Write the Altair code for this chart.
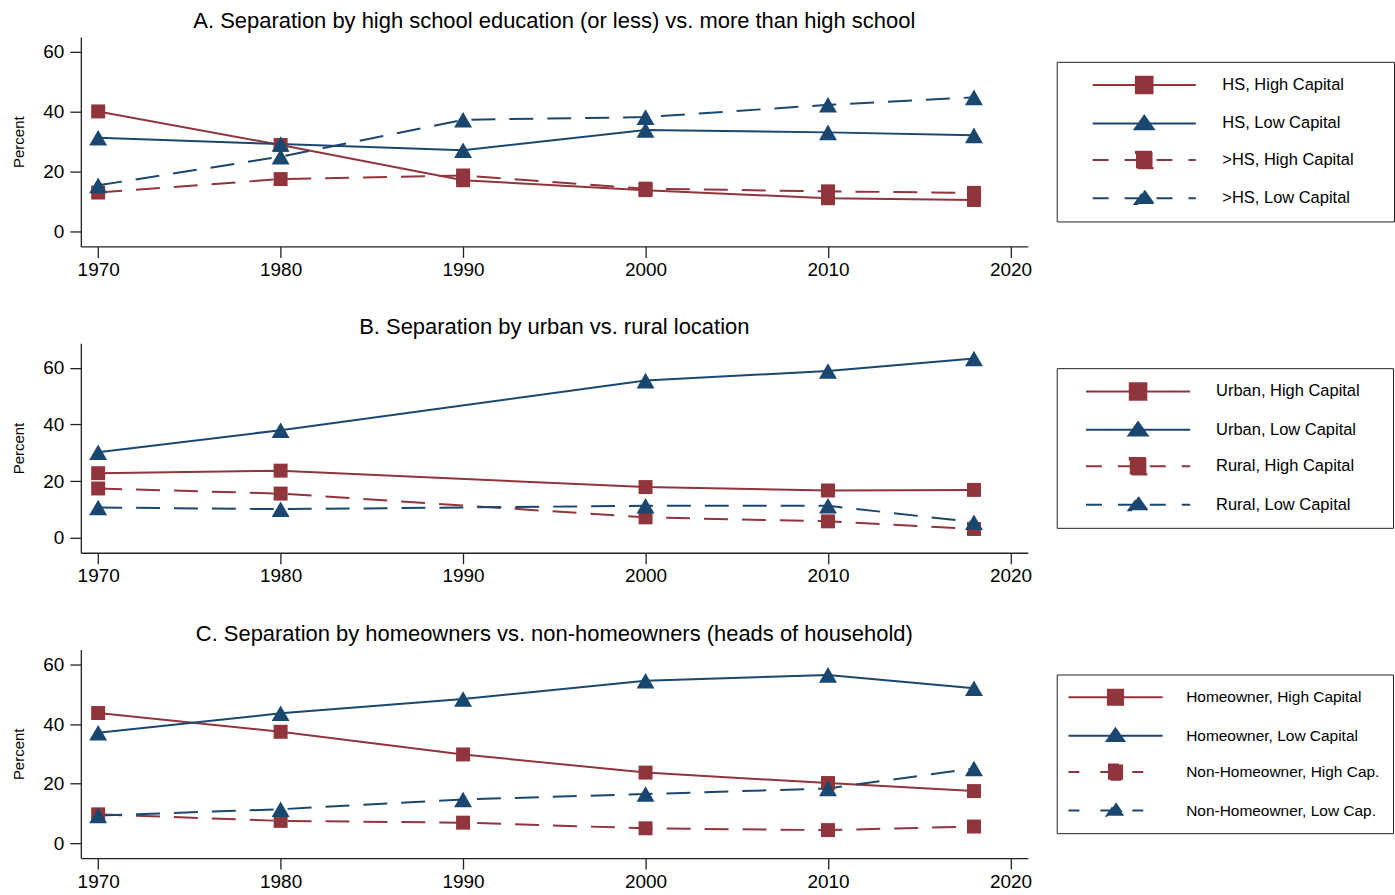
import json

import altair as alt
import pandas as pd

# ---- data -------------------------------------------------------------
YEARS = [1970, 1980, 1990, 2000, 2010, 2018]
YEARS_B = [1970, 1980, 2000, 2010, 2018]

A_TITLE = "A. Separation by high school education (or less) vs. more than high school"
A_SERIES = ["HS, High Capital", "HS, Low Capital", ">HS, High Capital", ">HS, Low Capital"]
A_HS_HIGH = [40.1, 28.9, 17.1, 13.8, 11.1, 10.5]
A_HS_LOW = [31.3, 29.2, 27.1, 33.9, 33.1, 32.1]
A_GT_HIGH = [13.0, 17.5, 18.7, 14.3, 13.4, 12.9]
A_GT_LOW = [15.4, 25.0, 37.3, 38.2, 42.3, 44.8]

B_TITLE = "B. Separation by urban vs. rural location"
B_SERIES = ["Urban, High Capital", "Urban, Low Capital", "Rural, High Capital", "Rural, Low Capital"]
B_URBAN_HIGH = [22.8, 23.7, 17.9, 16.7, 16.9]
B_URBAN_LOW = [30.2, 38.0, 55.5, 58.9, 63.3]
B_RURAL_HIGH = [17.4, 15.6, 7.2, 5.8, 3.1]
B_RURAL_LOW = [10.7, 10.1, 11.3, 11.3, 5.5]

C_TITLE = "C. Separation by homeowners vs. non-homeowners (heads of household)"
C_SERIES = ["Homeowner, High Capital", "Homeowner, Low Capital",
            "Non-Homeowner, High Cap.", "Non-Homeowner, Low Cap."]
C_HOME_HIGH = [43.7, 37.4, 29.8, 23.7, 20.2, 17.5]
C_HOME_LOW = [37.1, 43.6, 48.4, 54.5, 56.5, 52.0]
C_NON_HIGH = [9.7, 7.5, 6.9, 5.0, 4.4, 5.6]
C_NON_LOW = [9.3, 11.4, 14.7, 16.5, 18.4, 25.1]

X_TICKS = [1970, 1980, 1990, 2000, 2010, 2020]
Y_TICKS = [0, 20, 40, 60]

# ---- style ------------------------------------------------------------
MAROON = "#90353b"
NAVY = "#1a476f"
FONT = "Liberation Sans"
PLOT_W = 949
LINE_DASH = [24, 14]


def long_frame(years, series, columns):
    rows = []
    for i, (name, vals) in enumerate(zip(series, columns)):
        marker = "square" if i % 2 == 0 else "triangle"
        pattern = "solid" if i < 2 else "dash"
        for yr, v in zip(years, vals):
            rows.append({"year": yr, "value": v, "series": name,
                         "marker": marker, "pattern": pattern})
    return pd.DataFrame(rows)


def legend_for(series, unit, half_len, sym_offset, label_offset, label_size, row_pad,
               sq_half, tri_w, tri_top, tri_bot, dash, extend):
    """Boxed legend whose symbols are a line sample with the marker on it.

    Symbol paths are written in units of `unit` pixels (half the symbol box),
    so the entry rows stay as tall as the marker rather than the line sample.
    """
    u = float(unit)
    L = half_len / u
    s = sq_half / u
    tw, tt, tb = tri_w / u, tri_top / u, tri_bot / u
    ext = extend / u
    line = f"M{ext:.3f},0M{-L:.3f},0H{L:.3f}"
    sq_path = f"{line}M{-s:.3f},{-s:.3f}H{s:.3f}V{s:.3f}H{-s:.3f}Z"
    tri_path = f"{line}M0,{-tt:.3f}L{tw:.3f},{tb:.3f}H{-tw:.3f}Z"
    high = json.dumps([series[0], series[2]])
    dashed = json.dumps(series[2:])
    is_high = f"indexof({high}, datum.value) >= 0"
    return alt.Legend(
        title=None,
        orient="none",
        legendX=978,
        legendY=25,
        strokeColor="#222222",
        fillColor="white",
        padding=12.8,
        rowPadding=row_pad,
        cornerRadius=0,
        symbolSize=(2 * u) ** 2,
        symbolStrokeWidth=2,
        symbolOpacity=1,
        symbolOffset=sym_offset,
        symbolType={"expr": f"{is_high} ? '{sq_path}' : '{tri_path}'"},
        symbolStrokeColor={"expr": f"{is_high} ? '{MAROON}' : '{NAVY}'"},
        symbolFillColor={"expr": f"{is_high} ? '{MAROON}' : '{NAVY}'"},
        symbolDash={"expr": f"indexof({dashed}, datum.value) >= 0 ? {json.dumps(dash)} : [1, 0]"},
        labelOffset=label_offset,
        labelFont=FONT,
        labelFontSize=label_size,
        labelColor="black",
        labelLimit=400,
    )


def panel(title, years, series, columns, ydom, height, legend):
    df = long_frame(years, series, columns)
    color_scale = alt.Scale(domain=series, range=[MAROON, NAVY, MAROON, NAVY])
    x = alt.X(
        "year:Q", title=None,
        scale=alt.Scale(domain=[1969.05, 2020.95], nice=False, zero=False),
        axis=alt.Axis(values=X_TICKS, format="d", tickSize=11, labelPadding=3),
    )
    y = alt.Y(
        "value:Q", title="Percent",
        scale=alt.Scale(domain=ydom, nice=False, zero=False),
        axis=alt.Axis(values=Y_TICKS, tickSize=11, labelPadding=6, titlePadding=16),
    )
    color = alt.Color("series:N", scale=color_scale, legend=legend)
    base = alt.Chart(df)
    solid = base.transform_filter(alt.datum.pattern == "solid").mark_line(
        strokeWidth=2
    ).encode(x=x, y=y, color=color, detail="series:N")
    dashed = base.transform_filter(alt.datum.pattern == "dash").mark_line(
        strokeWidth=2, strokeDash=LINE_DASH
    ).encode(x=x, y=y, color=color, detail="series:N")
    squares = base.transform_filter(alt.datum.marker == "square").mark_point(
        shape="square", size=196, filled=True, opacity=1
    ).encode(x=x, y=y, color=color)
    triangles = base.transform_filter(alt.datum.marker == "triangle").mark_point(
        shape="triangle-up", size=324, filled=True, opacity=1
    ).encode(x=x, y=y, color=color)
    return alt.layer(solid, dashed, squares, triangles).properties(
        width=PLOT_W,
        height=height,
        title=alt.TitleParams(title, anchor="middle", frame="group", offset=4,
                              font=FONT, fontSize=22, fontWeight="normal", color="black"),
    )


leg_a = legend_for(A_SERIES, 9.5, 51.7, 64.4, 67.8, 16.5, 13.5,
                   8.3, 9.5, 7.7, 5.7, [16, 16], 232.5)
leg_b = legend_for(B_SERIES, 9.5, 52.2, 58.2, 67.7, 16.5, 13.5,
                   8.3, 9.5, 7.7, 5.7, [16, 16], 238.7)
leg_c = legend_for(C_SERIES, 9.0, 47.2, 36.1, 60.8, 15.5, 14.5,
                   7.6, 8.7, 7.3, 5.3, [11, 21], 0)

pa = panel(A_TITLE, YEARS, A_SERIES, [A_HS_HIGH, A_HS_LOW, A_GT_HIGH, A_GT_LOW],
           [-5.0, 65.0], 210, leg_a)
pb = panel(B_TITLE, YEARS_B, B_SERIES, [B_URBAN_HIGH, B_URBAN_LOW, B_RURAL_HIGH, B_RURAL_LOW],
           [-5.3, 68.7], 210, leg_b)
pc = panel(C_TITLE, YEARS, C_SERIES, [C_HOME_HIGH, C_HOME_LOW, C_NON_HIGH, C_NON_LOW],
           [-5.0, 65.0], 209, leg_c)

chart = (
    alt.vconcat(pa, pb, pc, spacing=37)
    .resolve_scale(color="independent")
    .resolve_legend(color="independent")
    .properties(
        padding={"left": 11, "top": 9, "right": 0, "bottom": 0},
        background="white",
    )
    .configure_view(stroke=None)
    .configure_axis(
        grid=False,
        domainColor="#222222",
        tickColor="#222222",
        domainWidth=1.3,
        tickWidth=1.3,
        labelFont=FONT,
        labelFontSize=19,
        labelColor="black",
        titleFont=FONT,
        titleFontSize=15,
        titleFontWeight="normal",
        titleColor="black",
    )
)

chart.save("out.html", embed_options={"renderer": "svg", "actions": False})
